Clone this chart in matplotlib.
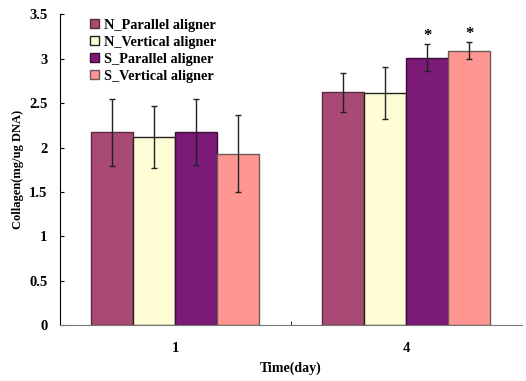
import numpy as np
import matplotlib.pyplot as plt

# Data
days = ['1', '4']
series = ['N_Parallel aligner', 'N_Vertical aligner', 'S_Parallel aligner', 'S_Vertical aligner']
n_parallel = [2.17, 2.62]
n_vertical = [2.12, 2.61]
s_parallel = [2.17, 3.01]
s_vertical = [1.93, 3.09]
n_parallel_err = [0.38, 0.22]
n_vertical_err = [0.35, 0.29]
s_parallel_err = [0.37, 0.15]
s_vertical_err = [0.43, 0.10]
stars = [[False, False], [False, False], [False, True], [False, True]]

values = [n_parallel, n_vertical, s_parallel, s_vertical]
errors = [n_parallel_err, n_vertical_err, s_parallel_err, s_vertical_err]
colors = ['#A84A75', '#FFFDD6', '#7B1A77', '#FF9692']
edges = ['#5a2a40', '#222222', '#3a0a38', '#6a5a5a']

plt.rcParams['font.family'] = ['Liberation Serif', 'DejaVu Serif']
plt.rcParams['font.weight'] = 'bold'

fig = plt.figure(figsize=(5.26, 3.81), dpi=100)
ax = fig.add_axes([0.114, 0.146, 0.878, 0.817])

x = np.arange(len(days))
w = 0.182
for i in range(len(series)):
    pos = x + (i - 1.5) * w
    ax.bar(pos, values[i], width=w, color=colors[i], edgecolor=edges[i],
           linewidth=1.0, label=series[i], zorder=2)
    ax.errorbar(pos, values[i], yerr=errors[i], fmt='none', ecolor='#222222',
                elinewidth=1.0, capsize=2.2, capthick=1.0, zorder=3)
    for j in range(len(days)):
        if stars[i][j]:
            ax.text(pos[j], values[i][j] + errors[i][j], '*',
                    ha='center', va='bottom', fontsize=12, fontweight='bold')

ax.set_xlim(-0.5, 1.5)
ax.set_ylim(0, 3.5)
ax.set_yticks(np.arange(0, 3.51, 0.5))
ax.set_yticklabels(['0', '0.5', '1', '1.5', '2', '2.5', '3', '3.5'])
ax.set_xticks(x)
ax.set_xticklabels(days)
ax.set_xticks([0.5], minor=True)
ax.tick_params(axis='x', which='major', length=0, pad=12, labelsize=10.5)
ax.tick_params(axis='x', which='minor', direction='in', length=3, color='black')
ax.tick_params(axis='y', direction='in', length=3, labelsize=10.5, pad=9)

for s in ['top', 'right']:
    ax.spines[s].set_visible(False)
ax.spines['left'].set_color('black')
ax.spines['bottom'].set_color('#777777')

ax.set_ylabel('Collagen(mg/ug DNA)', fontsize=9, fontweight='bold', labelpad=4)
ax.set_xlabel('Time(day)', fontsize=10, fontweight='bold', labelpad=5)

ax.legend(loc='upper left', bbox_to_anchor=(0.045, 1.015), frameon=False,
          fontsize=10.3, handlelength=0.6, handleheight=0.6, handletextpad=0.4,
          labelspacing=0.28, borderaxespad=0.25)

fig.savefig('out.png', dpi=100)
